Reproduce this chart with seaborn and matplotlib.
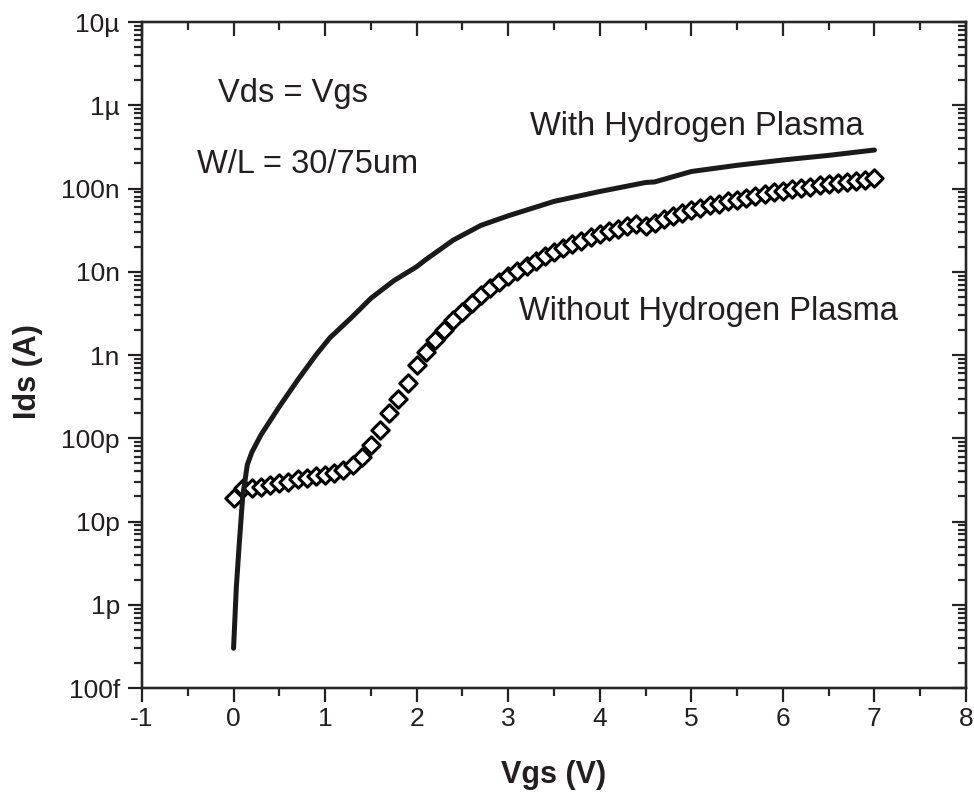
import numpy as np
import pandas as pd
import matplotlib
matplotlib.use("Agg")
import matplotlib.pyplot as plt
import seaborn as sns
from matplotlib.ticker import FixedLocator, FixedFormatter, LogLocator, NullFormatter, MultipleLocator

# Transfer curve with hydrogen plasma treatment (solid line)
vgs_with = [0.0, 0.03, 0.06, 0.10, 0.15, 0.20, 0.30, 0.50, 0.70, 0.90, 1.05,
            1.30, 1.50, 1.75, 2.00, 2.10, 2.40, 2.70, 3.00, 3.50, 4.00, 4.50,
            4.60, 5.00, 5.50, 6.00, 6.50, 7.00]
ids_with = [3.0e-13, 1.6e-12, 5.0e-12, 2.0e-11, 4.8e-11, 6.8e-11, 1.1e-10,
            2.4e-10, 5.0e-10, 1.0e-9, 1.6e-9, 2.9e-9, 4.8e-9, 7.8e-9, 1.15e-8,
            1.4e-8, 2.4e-8, 3.6e-8, 4.7e-8, 7.0e-8, 9.2e-8, 1.18e-7, 1.2e-7,
            1.6e-7, 1.9e-7, 2.2e-7, 2.5e-7, 2.9e-7]

# Transfer curve without hydrogen plasma treatment (diamonds), 0.1 V sweep step
vgs_without = np.round(np.arange(0, 71) * 0.1, 1)
ids_without = [1.9e-11, 2.5e-11, 2.5e-11, 2.6e-11, 2.75e-11, 2.9e-11, 3.0e-11,
               3.2e-11, 3.3e-11, 3.5e-11, 3.6e-11, 3.8e-11, 4.2e-11, 4.8e-11,
               6.0e-11, 8.3e-11, 1.26e-10, 2.0e-10, 3.0e-10, 4.6e-10, 7.5e-10,
               1.1e-9, 1.5e-9, 2.0e-9, 2.6e-9, 3.3e-9, 4.2e-9, 5.2e-9, 6.4e-9,
               7.6e-9, 8.8e-9, 1.02e-8, 1.18e-8, 1.36e-8, 1.55e-8, 1.75e-8,
               1.95e-8, 2.15e-8, 2.35e-8, 2.6e-8, 2.85e-8, 3.05e-8, 3.3e-8,
               3.5e-8, 3.75e-8, 3.5e-8, 3.9e-8, 4.3e-8, 4.7e-8, 5.1e-8, 5.5e-8,
               5.9e-8, 6.3e-8, 6.6e-8, 7.0e-8, 7.3e-8, 7.7e-8, 8.1e-8, 8.6e-8,
               9.0e-8, 9.4e-8, 9.8e-8, 1.01e-7, 1.05e-7, 1.09e-7, 1.13e-7,
               1.16e-7, 1.2e-7, 1.24e-7, 1.28e-7, 1.32e-7]

y_tick_values = [1e-13, 1e-12, 1e-11, 1e-10, 1e-9, 1e-8, 1e-7, 1e-6, 1e-5]
y_tick_labels = ["100f", "1p", "10p", "100p", "1n", "10n", "100n", "1\u00b5", "10\u00b5"]
x_tick_values = [-1, 0, 1, 2, 3, 4, 5, 6, 7, 8]
x_tick_labels = ["-1", "0", "1", "2", "3", "4", "5", "6", "7", "8"]

df_with = pd.DataFrame({"Vgs": vgs_with, "Ids": ids_with})
df_without = pd.DataFrame({"Vgs": vgs_without, "Ids": ids_without})

sns.set_style("ticks")
plt.rcParams["font.family"] = ["Liberation Sans", "DejaVu Sans"]
plt.rcParams["axes.linewidth"] = 1.6

ink = "#231f20"
fig = plt.figure(figsize=(9.74, 7.94), dpi=100)
ax = fig.add_axes([142 / 974, 106 / 794, 824 / 974, 666 / 794])

sns.scatterplot(data=df_without, x="Vgs", y="Ids", ax=ax, marker="D", s=78,
                facecolor="white", edgecolor="black", linewidth=2.2, zorder=3,
                legend=False)
sns.lineplot(data=df_with, x="Vgs", y="Ids", ax=ax, sort=False, estimator=None,
             color="#1a1a1a", linewidth=3.6, solid_capstyle="round",
             solid_joinstyle="round", zorder=4, legend=False)

ax.set_yscale("log")
ax.set_xlim(-1, 8)
ax.set_ylim(1e-13, 1e-5)

ax.xaxis.set_major_locator(FixedLocator(x_tick_values))
ax.xaxis.set_major_formatter(FixedFormatter(x_tick_labels))
ax.xaxis.set_minor_locator(MultipleLocator(0.5))
ax.yaxis.set_major_locator(FixedLocator(y_tick_values))
ax.yaxis.set_major_formatter(FixedFormatter(y_tick_labels))
ax.yaxis.set_minor_locator(LogLocator(base=10, subs=np.arange(2, 10), numticks=20))
ax.yaxis.set_minor_formatter(NullFormatter())

ax.tick_params(axis="both", which="major", direction="out", length=10, width=1.6,
               labelsize=19, colors=ink, top=False, right=False)
ax.tick_params(axis="both", which="minor", direction="out", length=6, width=1.6,
               top=False, right=False)
ax.tick_params(axis="x", which="major", pad=3.5)
ax.tick_params(axis="y", which="major", pad=6)
for lab in ax.get_xticklabels() + ax.get_yticklabels():
    lab.set_color(ink)

# Mirrored ticks on the top and right frame, pointing into the plot
ax_top = ax.twiny()
ax_top.set_xlim(-1, 8)
ax_top.xaxis.set_major_locator(FixedLocator(x_tick_values))
ax_top.xaxis.set_minor_locator(MultipleLocator(0.5))
ax_top.tick_params(axis="x", which="major", direction="in", length=10, width=1.6,
                   top=True, bottom=False, labeltop=False, labelbottom=False)
ax_top.tick_params(axis="x", which="minor", direction="in", length=6, width=1.6,
                   top=True, bottom=False)

ax_right = ax.twinx()
ax_right.set_yscale("log")
ax_right.set_ylim(1e-13, 1e-5)
ax_right.yaxis.set_major_locator(FixedLocator(y_tick_values))
ax_right.yaxis.set_minor_locator(LogLocator(base=10, subs=np.arange(2, 10), numticks=20))
ax_right.yaxis.set_minor_formatter(NullFormatter())
ax_right.tick_params(axis="y", which="major", direction="in", length=10, width=1.6,
                     right=True, left=False, labelright=False, labelleft=False)
ax_right.tick_params(axis="y", which="minor", direction="in", length=6, width=1.6,
                     right=True, left=False)

ax.set_xlabel("Vgs (V)", fontsize=22, fontweight="bold", color=ink)
ax.set_ylabel("Ids (A)", fontsize=22, fontweight="bold", color=ink)
ax.xaxis.label.set_va("center")
ax.yaxis.label.set_va("center")
ax.xaxis.set_label_coords(0.5, -0.131)
ax.yaxis.label.set_ha("center")
ax.yaxis.set_label_coords(-0.138, 0.475)

note_kw = dict(fontsize=23.5, color=ink, ha="left", va="baseline", zorder=5)
ax.text(-0.17, 1.1e-6, "Vds = Vgs", **note_kw)
ax.text(-0.40, 1.52e-7, "W/L = 30/75um", **note_kw)
ax.text(3.24, 4.4e-7, "With Hydrogen Plasma", **note_kw)
ax.text(3.12, 2.6e-9, "Without Hydrogen Plasma", **note_kw)

fig.savefig("out.png", dpi=100)
